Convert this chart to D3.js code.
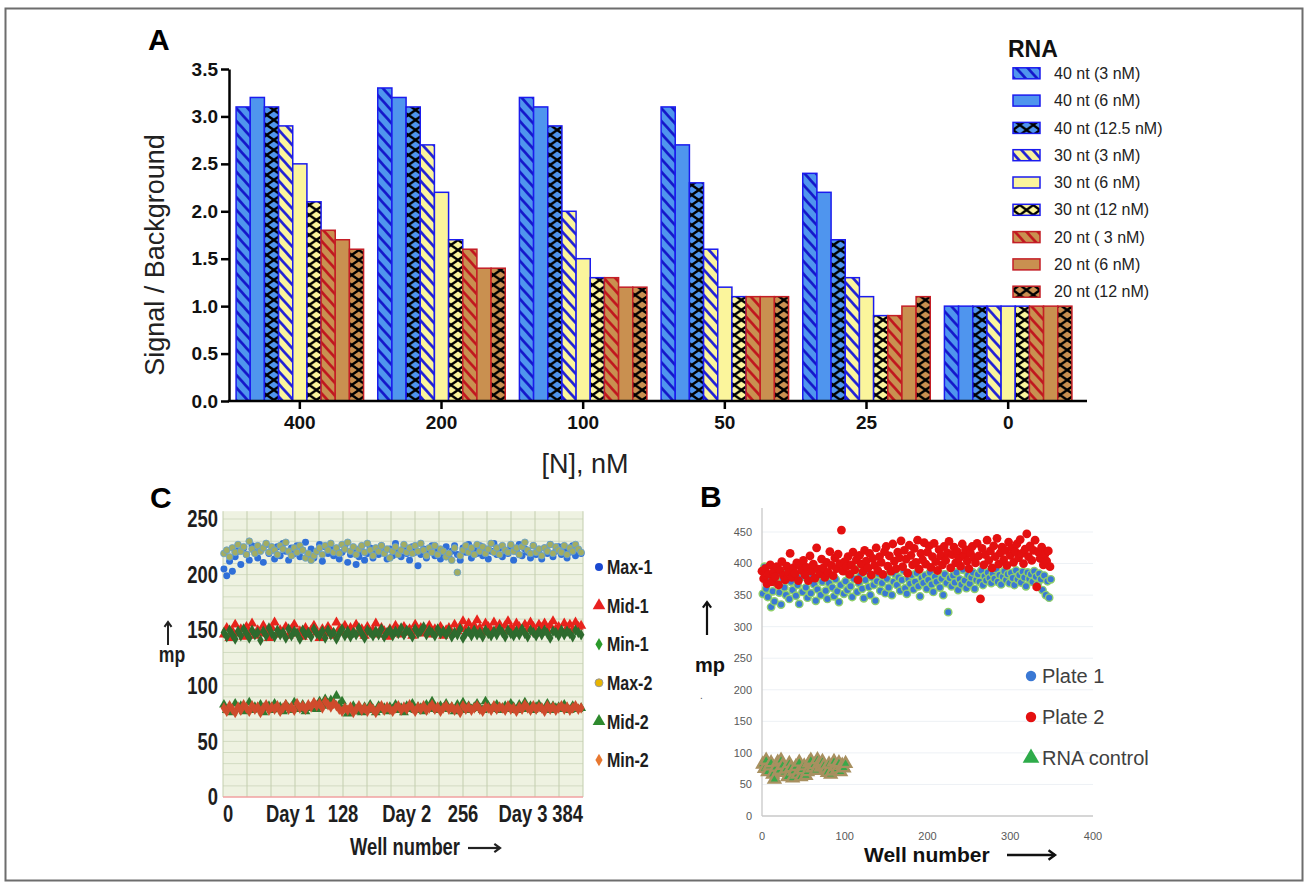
<!DOCTYPE html>
<html>
<head>
<meta charset="utf-8">
<script src="https://cdn.jsdelivr.net/npm/d3@7/dist/d3.min.js"></script>
<style>
html,body{margin:0;padding:0;background:#fff;}
svg{display:block;}
text{font-family:"Liberation Sans",Arial,sans-serif;}
</style>
</head>
<body>
<svg id="fig" width="1308" height="888"></svg>
<script>
// ================= Panel A data =================
const concLabels = ["400","200","100","50","25","0"];
const rnaLabels = ["40 nt (3 nM)","40 nt (6 nM)","40 nt (12.5 nM)","30 nt (3 nM)","30 nt (6 nM)","30 nt (12 nM)","20 nt ( 3 nM)","20 nt (6 nM)","20 nt (12 nM)"];
const nt40_3   = [3.1,3.3,3.2,3.1,2.4,1.0];
const nt40_6   = [3.2,3.2,3.1,2.7,2.2,1.0];
const nt40_125 = [3.1,3.1,2.9,2.3,1.7,1.0];
const nt30_3   = [2.9,2.7,2.0,1.6,1.3,1.0];
const nt30_6   = [2.5,2.2,1.5,1.2,1.1,1.0];
const nt30_12  = [2.1,1.7,1.3,1.1,0.9,1.0];
const nt20_3   = [1.8,1.6,1.3,1.1,0.9,1.0];
const nt20_6   = [1.7,1.4,1.2,1.1,1.0,1.0];
const nt20_12  = [1.6,1.4,1.2,1.1,1.1,1.0];
const yTicksA = [0,0.5,1.0,1.5,2.0,2.5,3.0,3.5];

// ================= Panel C data =================
const cSeriesNames = ["Max-1","Mid-1","Min-1","Max-2","Mid-2","Min-2"];
const cWellStep = 3;
const max1 = [205,199,212,203,216,221,209,224,218,213,226,220,215,223,211,227,219,222,214,225,
 217,228,221,213,224,219,226,216,222,229,218,223,215,221,227,212,225,219,224,217,
 222,214,220,226,211,218,223,209,216,221,213,219,224,215,222,218,226,220,214,223,
 217,228,221,216,224,219,213,225,220,208,218,223,215,221,226,217,222,214,219,225,
 216,221,226,218,213,224,220,227,215,222,219,226,217,223,214,221,228,218,224,216,
 222,219,225,213,221,227,217,223,220,215,226,218,222,214,224,219,227,216,221,225,
 218,223,215,220,226,217,222,219];
const max2 = [219,222,216,224,220,227,221,225,218,230,223,219,226,221,224,228,220,225,222,218,
 226,223,229,221,217,224,220,226,222,215,219,213,217,221,224,218,226,222,228,220,
 224,219,227,223,229,221,225,218,223,226,220,228,222,217,224,221,226,219,223,215,
 221,225,218,222,227,220,224,219,226,221,228,222,217,224,220,226,218,223,221,216,
 219,213,224,202,217,222,226,220,224,218,227,221,225,219,223,228,220,224,218,226,
 222,220,227,221,224,218,225,229,222,219,226,220,223,217,224,221,227,219,225,222,
 220,226,218,224,221,227,223,220];
const mid1 = [146,152,143,149,155,147,151,144,153,148,156,145,150,147,154,149,143,152,157,146,
 150,148,153,145,151,155,147,149,144,152,146,150,154,148,143,151,147,153,149,145,
 157,151,148,154,146,152,149,155,147,151,145,153,148,150,156,146,152,149,144,151,
 147,154,150,146,153,148,151,145,155,149,152,147,150,154,146,151,148,153,145,150,
 152,147,155,149,153,158,151,156,150,154,159,152,148,156,153,150,157,151,155,149,
 154,158,152,150,156,153,149,155,151,157,153,148,155,152,156,150,154,158,151,153,
 149,156,152,155,150,157,153,154];
const min1 = [148,144,150,146,142,149,145,151,147,143,150,146,148,141,149,145,152,147,144,150,
 146,148,143,151,145,149,147,142,150,146,148,144,151,147,145,149,143,150,146,148,
 142,147,151,145,149,144,148,146,152,147,143,150,148,145,149,146,151,144,148,150,
 145,149,147,152,146,150,148,144,151,147,149,153,146,150,148,145,151,147,149,146,
 150,144,148,146,151,143,147,149,145,150,146,148,144,150,147,145,149,146,151,148,
 144,150,147,145,149,146,151,147,144,150,148,145,149,146,150,147,143,149,148,145,
 150,146,149,147,144,150,148,146];
const mid2 = [83,78,81,76,84,79,82,77,80,85,78,81,79,83,76,80,82,78,84,79,
 81,77,83,80,78,85,81,79,83,77,82,80,84,79,86,82,88,84,87,85,
 91,83,86,80,75,79,82,77,80,76,81,78,83,79,76,82,78,80,77,81,
 79,83,78,80,76,82,79,84,78,81,80,77,83,79,86,81,78,82,80,84,
 79,81,77,83,80,85,78,82,79,81,84,80,78,86,82,79,81,83,78,80,
 82,79,84,81,78,83,80,85,79,82,78,81,83,80,79,84,78,82,80,81,
 79,83,80,78,82,81,79,80];
const min2 = [80,77,82,79,76,81,78,83,80,77,82,79,81,76,80,83,78,81,79,82,
 77,80,83,79,81,78,84,80,82,79,83,81,85,82,84,80,86,83,81,84,
 82,79,77,80,78,81,76,79,82,78,80,77,81,79,76,80,82,78,81,79,
 77,80,82,78,81,79,83,80,77,81,79,82,78,80,83,79,81,77,80,82,
 79,81,78,80,76,82,79,81,78,80,82,79,77,81,80,78,82,79,81,80,
 78,82,79,80,77,81,79,83,80,78,82,79,81,80,77,82,79,81,78,80,
 82,79,81,78,80,82,79,80];
const cXTickLabels = ["0","Day 1","128","Day 2","256","Day 3","384"];
const cXTickWells  = [0,72,128,196,256,320,384];
const cYTicks = [0,50,100,150,200,250];

// ================= Panel B data =================
const bWellStep = 2;
const plate1 = [352,395,360,347,372,331,356,340,369,384,354,335,376,362,350,388,344,371,358,381,349,366,336,378,355,
 385,362,346,374,353,380,367,341,359,377,350,371,386,357,344,369,381,362,348,375,356,339,366,389,352,
 372,358,383,364,347,376,391,355,369,381,360,345,374,388,363,350,378,366,341,372,384,357,369,380,353,
 376,362,387,350,371,383,366,378,357,374,389,361,352,376,368,382,359,371,385,364,348,377,369,381,360,
 374,386,367,355,379,371,388,362,376,350,383,369,323,377,364,381,370,386,358,375,367,390,373,361,382,
 368,378,386,360,374,383,371,389,366,380,373,386,377,369,384,376,391,371,382,367,379,388,374,383,369,
 385,377,366,389,375,382,370,387,378,364,386,376,383,371,388,379,367,384,375,358,381,350,372,346,375];
const plate2 = [388,376,392,368,383,398,371,387,379,395,366,389,403,381,374,396,386,416,378,393,384,401,373,397,389,
 405,382,394,373,412,388,399,377,425,391,384,407,393,378,402,386,419,397,381,409,392,415,400,453,388,
 403,395,411,383,398,418,390,406,374,413,399,387,421,404,393,416,382,408,397,425,389,411,402,383,419,
 427,396,412,388,431,404,392,418,409,436,395,421,407,385,429,413,398,424,402,437,391,416,406,433,399,
 418,428,394,411,432,403,389,422,412,398,427,405,417,435,393,414,426,401,419,408,396,431,413,422,404,
 392,416,427,409,401,432,412,344,424,398,414,437,405,420,393,428,411,440,399,417,426,406,421,397,434,
 413,425,402,419,431,409,438,416,400,423,447,411,428,405,421,437,363,418,408,426,398,415,404,420,395];
const rnaControl = [82,75,88,70,79,84,66,58,77,85,72,88,80,69,74,62,83,76,60,71,78,66,85,62,73,79,64,70,84,88,
 76,81,72,89,83,77,86,80,74,69,82,66,71,86,78,74,84,70,80,76,83];
const bYTicks = [0,50,100,150,200,250,300,350,400,450];
const bXTicks = [0,100,200,300,400];
const bLegend = ["Plate 1","Plate 2","RNA control"];

// ================= drawing =================
const svg = d3.select("#fig");
const defs = svg.append("defs");

svg.append("rect").attr("x",5.5).attr("y",8.5).attr("width",1297).attr("height",872)
  .attr("fill","none").attr("stroke","#6d6d6d").attr("stroke-width",2);

function arrow(g, x1, y1, x2, y2, sw, head, col) {
  const ang = Math.atan2(y2 - y1, x2 - x1);
  g.append("line").attr("x1",x1).attr("y1",y1).attr("x2",x2).attr("y2",y2)
    .attr("stroke",col).attr("stroke-width",sw);
  const a1 = ang + Math.PI * 0.8, a2 = ang - Math.PI * 0.8;
  g.append("path")
    .attr("d",`M${x2 + head*Math.cos(a1)},${y2 + head*Math.sin(a1)}L${x2},${y2}L${x2 + head*Math.cos(a2)},${y2 + head*Math.sin(a2)}`)
    .attr("fill","none").attr("stroke",col).attr("stroke-width",sw);
}
function narrow(g, x, y, txt, size, anchor, dy) {
  return g.append("text").attr("transform",`translate(${x},${y}) scale(0.8,1)`)
    .attr("text-anchor",anchor || "start").attr("dy",dy || 0)
    .attr("font-weight","bold").attr("font-size",size).attr("fill","#1e1e1e").text(txt);
}

// ---------- Panel A ----------
const seriesA = [nt40_3,nt40_6,nt40_125,nt30_3,nt30_6,nt30_12,nt20_3,nt20_6,nt20_12];
const BLUE = "#4f95ee", YEL = "#fbf59c", TAN = "#c99050";
const BSTROKE = "#1b1bee", RSTROKE = "#c41e26";
const styleA = [
  {base:BLUE, stroke:BSTROKE, type:"stripe", line:"#1212c8"},
  {base:BLUE, stroke:BSTROKE, type:"solid"},
  {base:BLUE, stroke:BSTROKE, type:"cross"},
  {base:YEL,  stroke:BSTROKE, type:"stripe", line:"#1818d8"},
  {base:YEL,  stroke:BSTROKE, type:"solid"},
  {base:YEL,  stroke:BSTROKE, type:"cross"},
  {base:TAN,  stroke:RSTROKE, type:"stripe", line:"#c0121c"},
  {base:TAN,  stroke:RSTROKE, type:"solid"},
  {base:TAN,  stroke:RSTROKE, type:"cross"}
];

const yA = d3.scaleLinear().domain([0,3.5]).range([401,69]);
const x0 = d3.scaleBand().domain(concLabels).range([229,1079]).paddingInner(0.1).paddingOuter(0.05);
const x1 = d3.scaleBand().domain(d3.range(seriesA.length)).range([0,x0.bandwidth()]);
const bw = x1.bandwidth();

function stripePat(id, base, line) {
  const p = defs.append("pattern").attr("id",id).attr("patternUnits","userSpaceOnUse")
    .attr("width",8.5).attr("height",8.5).attr("patternTransform","rotate(-42)");
  p.append("rect").attr("width",8.5).attr("height",8.5).attr("fill",base);
  p.append("line").attr("x1",4.25).attr("y1",-1).attr("x2",4.25).attr("y2",9.5)
    .attr("stroke",line).attr("stroke-width",2.6);
}
function crossPat(id, base, xoff, w, h) {
  const p = defs.append("pattern").attr("id",id).attr("patternUnits","userSpaceOnUse")
    .attr("x",xoff).attr("y",0).attr("width",w).attr("height",h);
  p.append("rect").attr("width",w).attr("height",h).attr("fill",base);
  p.append("path").attr("d",`M0,0L${w},${h}M${w},0L0,${h}`)
    .attr("stroke","#000").attr("stroke-width",2.4);
}
styleA.forEach((s,i) => {
  if (s.type === "stripe") { stripePat("pa"+i, s.base, s.line); }
  if (s.type === "cross") {
    crossPat("pa"+i, s.base, x0(concLabels[0]), bw, 10);
    crossPat("pl"+i, s.base, 1013, 13.5, 10);
  }
});
const fillA = (i, leg) => {
  const s = styleA[i];
  if (s.type === "solid") return s.base;
  if (s.type === "cross" && leg) return `url(#pl${i})`;
  return `url(#pa${i})`;
};

const gA = svg.append("g");
concLabels.forEach((c, ci) => {
  const g = gA.append("g").attr("transform",`translate(${x0(c)},0)`);
  g.selectAll("rect").data(seriesA.map((arr, si) => ({si, v: arr[ci]})))
    .join("rect")
    .attr("x", d => x1(d.si))
    .attr("y", d => yA(d.v))
    .attr("width", bw)
    .attr("height", d => yA(0) - yA(d.v))
    .attr("fill", d => fillA(d.si,false))
    .attr("stroke", d => styleA[d.si].stroke)
    .attr("stroke-width", 1.5);
});

const yAxisA = d3.axisLeft(yA).tickValues(yTicksA).tickFormat(d3.format(".1f")).tickSize(8).tickSizeOuter(0).tickPadding(3);
gA.append("g").attr("transform","translate(229,0)").call(yAxisA)
  .call(g => {
    g.select(".domain").attr("stroke","#000").attr("stroke-width",2.5);
    g.selectAll(".tick line").attr("stroke","#000").attr("stroke-width",2.5);
    g.selectAll(".tick text").attr("font-family","DejaVu Sans, sans-serif").attr("font-weight","bold")
      .attr("font-size",19).attr("fill","#111");
  });
gA.append("line").attr("x1",227.8).attr("x2",1087).attr("y1",yA(0)).attr("y2",yA(0))
  .attr("stroke","#000").attr("stroke-width",2.5);
const xAxisA = d3.axisBottom(x0).tickSize(8).tickSizeOuter(0).tickPadding(7);
gA.append("g").attr("transform",`translate(0,${yA(0)})`).call(xAxisA)
  .call(g => {
    g.select(".domain").remove();
    g.selectAll(".tick line").attr("stroke","#000").attr("stroke-width",2.5);
    g.selectAll(".tick text").attr("font-family","Liberation Sans, Arial, sans-serif").attr("font-weight","bold")
      .attr("font-size",19).attr("fill","#111");
  });

gA.append("text").attr("x",148).attr("y",50).attr("font-weight","bold").attr("font-size",30).text("A");
gA.append("text").attr("transform","translate(164,255) rotate(-90)").attr("text-anchor","middle")
  .attr("font-size",27).attr("fill","#222").text("Signal / Background");
gA.append("text").attr("x",585).attr("y",473).attr("text-anchor","middle")
  .attr("font-size",27).attr("fill","#222").text("[N], nM");

const legA = gA.append("g");
legA.append("text").attr("x",1008).attr("y",57).attr("font-weight","bold").attr("font-size",23).attr("fill","#111").text("RNA");
rnaLabels.forEach((lab, i) => {
  const cy = 73.3 + i * 27.3;
  legA.append("rect").attr("x",1013).attr("y",cy-5.5).attr("width",27).attr("height",11)
    .attr("fill",fillA(i,true)).attr("stroke",styleA[i].stroke).attr("stroke-width",1.5);
  legA.append("text").attr("x",1054).attr("y",cy).attr("dy","0.35em").attr("font-size",16).attr("fill","#222").text(lab);
});

// ---------- Panel C ----------
const xC = d3.scaleLinear().domain([0,384]).range([223,583]);
const yC = d3.scaleLinear().domain([0,250]).range([797,519]);
const gC = svg.append("g");
const cTop = yC(257);
gC.append("rect").attr("x",xC(0)).attr("y",cTop).attr("width",xC(384)-xC(0)).attr("height",yC(0)-cTop).attr("fill","#eef2e1");
d3.range(10,257,10).forEach(v => {
  gC.append("line").attr("x1",xC(0)).attr("x2",xC(384)).attr("y1",yC(v)).attr("y2",yC(v))
    .attr("stroke","#d2dbc2").attr("stroke-width",1);
});
d3.range(0,385,25.6).forEach(w => {
  gC.append("line").attr("x1",xC(w)).attr("x2",xC(w)).attr("y1",cTop).attr("y2",yC(0))
    .attr("stroke","#c3ceae").attr("stroke-width",1);
});
gC.append("line").attr("x1",xC(0)).attr("x2",xC(384)).attr("y1",yC(0)).attr("y2",yC(0))
  .attr("stroke","#f0a0a0").attr("stroke-width",1.6);

const cSeries = [
  {data:max1, sym:d3.symbolCircle, size:38, fill:"#2f6fd8", stroke:"none"},
  {data:max2, sym:d3.symbolCircle, size:36, fill:"#a2ad62", stroke:"#63a0d6"},
  {data:mid1, sym:d3.symbolTriangle, size:46, fill:"#e8231c", stroke:"none"},
  {data:min1, sym:d3.symbolDiamond, size:38, fill:"#2e6b2e", stroke:"none"},
  {data:mid2, sym:d3.symbolTriangle, size:42, fill:"#2f7a2f", stroke:"none"},
  {data:min2, sym:d3.symbolDiamond, size:38, fill:"#cf4b2c", stroke:"none"}
];
cSeries.forEach(s => {
  gC.append("g").selectAll("path").data(s.data).join("path")
    .attr("transform",(d,i) => `translate(${xC(i*cWellStep + 1)},${yC(d)})`)
    .attr("d", d3.symbol().type(s.sym).size(s.size))
    .attr("fill", s.fill).attr("stroke", s.stroke).attr("stroke-width",0.8);
});

cYTicks.forEach(v => { narrow(gC, 218, yC(v), v, 23, "end", "0.36em"); });
cXTickLabels.forEach((lab, i) => {
  const anchor = i === 0 ? "start" : (i === cXTickLabels.length-1 ? "end" : "middle");
  narrow(gC, xC(cXTickWells[i]), 822, lab, 23, anchor);
});
gC.append("text").attr("x",150).attr("y",508).attr("font-weight","bold").attr("font-size",30).text("C");
arrow(gC, 168, 645, 168, 622, 2, 6, "#222");
narrow(gC, 172, 662, "mp", 22, "middle");
narrow(gC, 350, 855, "Well number", 23, "start");
arrow(gC, 468, 848, 500, 848, 2.2, 7, "#222");

const cLegendSym = [
  {sym:d3.symbolCircle, size:50, fill:"#1a48d0", stroke:"none"},
  {sym:d3.symbolTriangle, size:70, fill:"#e82020", stroke:"none"},
  {sym:d3.symbolDiamond, size:45, fill:"#2a9a2a", stroke:"none"},
  {sym:d3.symbolCircle, size:50, fill:"#e8b400", stroke:"#999"},
  {sym:d3.symbolTriangle, size:70, fill:"#2e8a2e", stroke:"none"},
  {sym:d3.symbolDiamond, size:45, fill:"#e87830", stroke:"none"}
];
cSeriesNames.forEach((n, i) => {
  const cy = 567 + i * 38.6;
  const s = cLegendSym[i];
  gC.append("path").attr("transform",`translate(599,${cy})`).attr("d", d3.symbol().type(s.sym).size(s.size))
    .attr("fill", s.fill).attr("stroke", s.stroke);
  narrow(gC, 607, cy, n, 20, "start", "0.36em");
});

// ---------- Panel B ----------
const xB = d3.scaleLinear().domain([0,400]).range([762,1093]);
const yB = d3.scaleLinear().domain([0,450]).range([816,532]);
const gB = svg.append("g");
const bFont = "Open Sans, Lato, sans-serif";
bYTicks.slice(1).forEach(v => {
  gB.append("line").attr("x1",xB(0)).attr("x2",xB(400)).attr("y1",yB(v)).attr("y2",yB(v))
    .attr("stroke","#edf1f5").attr("stroke-width",1);
});
gB.append("line").attr("x1",xB(0)).attr("x2",xB(0)).attr("y1",yB(0)).attr("y2",yB(488))
  .attr("stroke","#c8c8c8").attr("stroke-width",1.3);
gB.append("line").attr("x1",xB(0)).attr("x2",xB(400)).attr("y1",yB(0)).attr("y2",yB(0))
  .attr("stroke","#c8c8c8").attr("stroke-width",1.3);
bYTicks.forEach(v => {
  gB.append("text").attr("x",752).attr("y",yB(v)).attr("dy","0.35em").attr("text-anchor","end")
    .attr("font-family",bFont).attr("font-size",11).attr("fill","#595959").text(v);
});
bXTicks.forEach(v => {
  gB.append("text").attr("x",xB(v)).attr("y",840).attr("text-anchor","middle")
    .attr("font-family",bFont).attr("font-size",11).attr("fill","#595959").text(v);
});
gB.append("g").selectAll("circle").data(plate1).join("circle")
  .attr("cx",(d,i) => xB(1 + i*bWellStep)).attr("cy", d => yB(d)).attr("r",3.7)
  .attr("fill","#3a78d4").attr("stroke","#8fcf6a").attr("stroke-width",1.4);
gB.append("g").selectAll("circle").data(plate2).join("circle")
  .attr("cx",(d,i) => xB(i*bWellStep)).attr("cy", d => yB(d)).attr("r",4.4)
  .attr("fill","#e41010");
gB.append("g").selectAll("path").data(rnaControl).join("path")
  .attr("transform",(d,i) => `translate(${xB(1 + i*bWellStep)},${yB(d)})`)
  .attr("d", d3.symbol().type(d3.symbolTriangle).size(55))
  .attr("fill","#3aa84a").attr("stroke","#a89060").attr("stroke-width",2.4);

gB.append("text").attr("x",700).attr("y",507).attr("font-weight","bold").attr("font-size",30).text("B");
arrow(gB, 707, 635, 707, 602, 2.2, 7, "#111");
gB.append("text").attr("x",710).attr("y",672).attr("text-anchor","middle")
  .attr("font-family",bFont).attr("font-weight","bold").attr("font-size",20).attr("fill","#111").text("mp");
gB.append("text").attr("x",700).attr("y",699).attr("font-size",10).attr("fill","#555").text(".");
gB.append("text").attr("x",864).attr("y",862)
  .attr("font-family",bFont).attr("font-weight","bold").attr("font-size",21).attr("fill","#111").text("Well number");
arrow(gB, 1007, 855, 1055, 855, 2.4, 8, "#111");

const bLegSym = [
  {sym:d3.symbolCircle, size:85, fill:"#3a78d4"},
  {sym:d3.symbolCircle, size:85, fill:"#e41010"},
  {sym:d3.symbolTriangle, size:120, fill:"#2eab4a"}
];
bLegend.forEach((n, i) => {
  const cy = 676 + i * 41;
  gB.append("path").attr("transform",`translate(1031,${cy})`).attr("d", d3.symbol().type(bLegSym[i].sym).size(bLegSym[i].size))
    .attr("fill", bLegSym[i].fill);
  gB.append("text").attr("x",1042).attr("y",cy).attr("dy","0.36em")
    .attr("font-family",bFont).attr("font-size",20).attr("fill","#404040").text(n);
});
</script>
</body>
</html>
